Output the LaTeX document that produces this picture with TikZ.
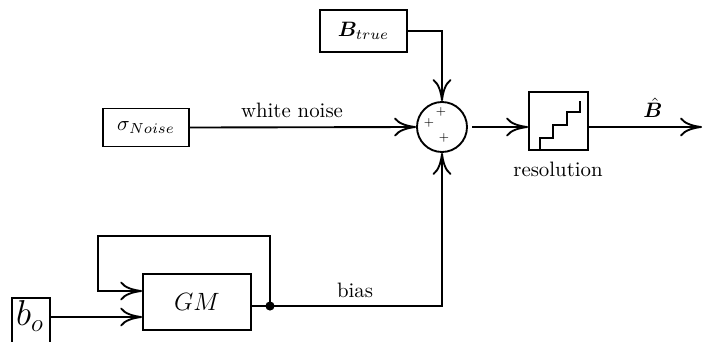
\documentclass[tikz,border=0pt]{standalone}
\usepackage{amsmath,amssymb,bm}
\usetikzlibrary{arrows.meta}
\begin{document}
\begin{tikzpicture}[x=0.48pt,y=-0.48pt,
  ln/.style={line width=0.9pt},
  arr/.style={ln,-{To[length=10.5pt,width=9pt,line width=0.9pt]}},
  blk/.style={draw,line width=0.9pt,inner sep=0pt},
  lbl/.style={inner sep=0pt}]
\useasboundingbox (0,0) rectangle (703,341);
% blocks
\node[blk,minimum width=41.8pt,minimum height=20.2pt] (bt) at (363.5,31) {$\boldsymbol{B}_{true}$};
\node[blk,minimum width=41.3pt,minimum height=18.2pt] (sig) at (146,127.5) {$\sigma_{Noise}$};
\node[draw,circle,line width=0.9pt,minimum size=24pt,inner sep=0pt] (sum) at (442,127) {};
\node[lbl] (p1) at (441,112) {\tiny$+$};
\node[lbl] (p2) at (429,123) {\tiny$+$};
\node[lbl] (p3) at (444,138) {\tiny$+$};
\node[blk,minimum width=28.3pt,minimum height=27.8pt] (res) at (558.5,121) {};
\node[blk,minimum width=51.8pt,minimum height=26.9pt] (gm) at (197,302) {\large$GM$};
\node[blk,minimum width=18.2pt,minimum height=27pt] (bo) at (31,326) {};
\node[lbl] (bot) at (30,316) {\LARGE$b_o$};
% staircase
\draw[ln] (540,150) -- (540,138) -- (553,138) -- (553,125) -- (567,125) -- (567,112) -- (580,112) -- (580,101);
% labels
\node[lbl] (wn) at (292,110) {white noise};
\node[lbl] (rl) at (558,169) {resolution};
\node[lbl] (bh) at (653,108) {$\hat{\boldsymbol{B}}$};
\node[lbl] (bl) at (355,290) {bias};
% connectors
\draw[arr] (bt.east) -| (sum.north);
\draw[arr] (sig.east) -- (sum.west);
\draw[arr,shorten <=2pt] (sum.east) -- (sum.east -| res.west);
\coordinate (out) at (702,127);
\draw[arr] (sum.east -| res.east) -- (out);
\coordinate (dot) at (270,306);
\draw[ln] (gm.east |- dot) -- (dot);
\draw[arr] (dot) -| (sum.south);
\coordinate (fb) at (98,236);
\draw[arr] (dot) |- (fb) |- (gm.west |- 0,291);
\draw[arr] (bo.east |- 0,317) -- (gm.west |- 0,317);
\fill (dot) circle (2.2pt);
\end{tikzpicture}
\end{document}
